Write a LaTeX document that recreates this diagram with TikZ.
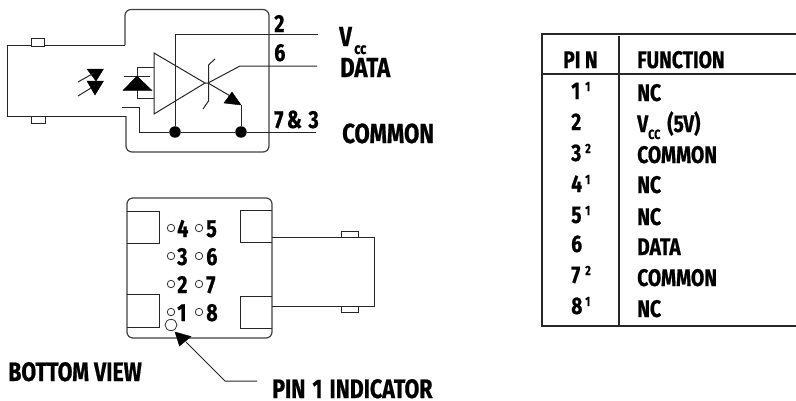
\documentclass[tikz,border=0pt]{standalone}
\usepackage{fontspec}
\usetikzlibrary{shapes.geometric}
\setmainfont{Fira Sans}[FakeStretch=0.8,BoldFeatures={FakeBold=0.7,FakeStretch=0.8}]
\begin{document}
\begin{tikzpicture}[x=0.75pt,y=-0.75pt,
  wire/.style={draw=black!85,line width=0.75pt,line join=miter},
  outline/.style={draw=black!75,line width=0.9pt},
  rule/.style={draw=black!85,line width=1.2pt},
  solid fill/.style={fill=black,draw=black,line width=0.3pt},
  dotnode/.style={circle,fill=black,inner sep=0pt,minimum size=8.6pt},
  pinhole/.style={circle,draw=black!80,line width=0.6pt,inner sep=0pt,minimum size=5.6pt},
  tx/.style={anchor=base west,inner sep=0pt,font=\bfseries\fontsize{18}{18}\selectfont,text=black},
  pintx/.style={tx,font=\bfseries\fontsize{18.5}{18}\selectfont},
  bigtx/.style={tx,font=\bfseries\fontsize{20.7}{20}\selectfont},
  captx/.style={tx,font=\bfseries\fontsize{20}{20}\selectfont},
  subtx/.style={tx,font=\bfseries\fontsize{12}{12}\selectfont},
  suptx/.style={tx,font=\bfseries\fontsize{10}{10}\selectfont}]
\useasboundingbox (0,0) rectangle (796,400);
% ---- top: package
\draw[outline,rounded corners=4.5pt] (125,45) -- (125,9.5) -- (269,9.5) -- (269,152) -- (126,152) -- (126,116);
\draw[wire] (126,116) -- (7,116) -- (7,45) -- (125,45);
\draw[wire,fill=white] (31,38.5) rectangle (44.5,46);
\draw[wire,fill=white] (31,116) rectangle (45.5,123);
% LED
\fill[solid fill] (87,69) -- (103.5,69) -- (96,81) -- cycle;
\fill[solid fill] (87,81) -- (103.5,81) -- (95,95) -- cycle;
\draw[wire] (78,82) -- (94,73);
\draw[wire] (78,96) -- (91,88);
% photodiode
\coordinate (pdA) at (137,67);
\coordinate (pdB) at (137,98);
\coordinate (ampTop) at (154,53);
\coordinate (ampBot) at (154,114);
\coordinate (ampTip) at (205,83);
\draw[wire] (ampTop) -- (ampBot) -- (ampTip) -- cycle;
\draw[wire] (154,67) -- (pdA) -- (pdB) -- (154,98);
\draw[wire] (124,76) -- (150,76);
\fill[solid fill] (123,90.5) -- (152,90.5) -- (137,76) -- cycle;
% schmitt
\coordinate (dataEnd) at (317,66);
\draw[wire] (ampTip) -- (208,83) -- (240,66) -- (dataEnd);
\draw[wire] (215,59) -- (208.5,65) -- (208.5,101) -- (203,109);
\coordinate (emit) at (241,105);
\draw[wire] (208,83) -- (232,97);
\fill[solid fill] (232,92) -- (224,103) -- (emit) -- cycle;
\node[dotnode] (dotV) at (175,132) {};
\node[dotnode] (dotE) at (241,132) {};
\coordinate (vccEnd) at (318,34);
\coordinate (comEnd) at (316,132);
\coordinate (comStart) at (122,107);
\draw[wire] (dotV) -- (175,34) -- (vccEnd);
\draw[wire] (emit) -- (dotE);
\draw[wire] (comStart) -- (139,107) -- (139,132) -- (dotV) -- (dotE) -- (comEnd);
% top labels
\node[pintx] (p2) at (274,32) {2};
\node[pintx] (p6) at (274,61) {6};
\node[pintx] (p73) at (274,128) {7\hspace{2.5pt}\&\hspace{5pt}3};
\node[bigtx] (vcc) at (339,46) {V};
\node[subtx] (vccs) at (354,54) {cc};
\node[bigtx] (data) at (340,77) {DATA};
\node[bigtx] (common) at (342,143) {COMMON};
% ---- bottom view
\draw[outline,rounded corners=4.5pt] (127,198) rectangle (272,338);
\draw[wire] (127,211) -- (159,211) -- (159,243.5) -- (127,243.5);
\draw[wire] (272,210) -- (240,210) -- (240,242) -- (272,242);
\draw[wire] (127,294) -- (159,294) -- (159,327) -- (127,327);
\draw[wire] (272,296) -- (240,296) -- (240,328) -- (272,328);
\draw[wire] (272,237.5) -- (374,237.5) -- (374,306) -- (272,306);
\draw[wire] (341,237.5) -- (341,231) -- (358,231) -- (358,237.5);
\draw[wire] (341,306) -- (341,312) -- (358,312) -- (358,306);
\foreach \n/\x/\y in {h4/171/228,h3/171/256,h2/171/284,h1/171/312,h5/199/228,h6/199/256,h7/199/284,h8/199/312}
  \node[pinhole] (\n) at (\x,\y) {};
\node[pintx] (n4) at (177,237) {4};
\node[pintx] (n5) at (206,237) {5};
\node[pintx] (n3) at (177,265) {3};
\node[pintx] (n6) at (206,265) {6};
\node[pintx] (n2) at (177,293) {2};
\node[pintx] (n7) at (206,293) {7};
\node[pintx] (n1) at (177,321) {1};
\node[pintx] (n8) at (206,321) {8};
\node[draw=black!80,line width=0.6pt,ellipse,inner sep=0pt,minimum width=9pt,minimum height=8.4pt] (ind) at (171,325) {};
\coordinate (tip) at (175,332);
\coordinate (elbow) at (225,381);
\coordinate (lead) at (257,381);
\draw[wire] (lead) -- (elbow) -- (186,342);
\fill[solid fill] (tip) -- (191,336.5) -- (179.5,346) -- cycle;
\node[captx] (bv) at (8,381) {BOTTOM VIEW};
\node[captx] (ind1) at (272,398) {PIN\hspace{1.5pt} 1\hspace{1.5pt} INDICATOR};
% ---- table
\draw[rule] (796,34) -- (542,34) -- (542,326) -- (796,326);
\draw[rule] (542,74) -- (796,74);
\draw[rule] (619,36) -- (619,326);
\node[tx] (hp) at (563,68) {PI N};
\node[tx] (hf) at (637,68) {FUNCTION};
\foreach \n/\t/\y in {a/1/99,b/2/130,c/3/161,d/4/192,e/5/223,f/6/252,g/7/283,h/8/314}
  \node[tx] (r\n) at (571,\y) {\t};
\foreach \n/\t/\y in {a/1/91,c/2/153,d/1/184,e/1/215,g/2/275,h/1/306}
  \node[suptx] (s\n) at (585,\y) {\t};
\node[tx] (fa) at (637,101) {NC};
\node[tx] (fb) at (637,132) {V};
\node[subtx,font=\bfseries\fontsize{10}{10}\selectfont] (fbs) at (648,139) {CC};
\node[tx] (fb2) at (667,132) {(5V)};
\node[tx] (fc) at (637,163) {COMMON};
\node[tx] (fd) at (637,193) {NC};
\node[tx] (fe) at (637,225) {NC};
\node[tx] (ff) at (637,255) {DATA};
\node[tx] (fg) at (637,286) {COMMON};
\node[tx] (fh) at (637,317) {NC};
\end{tikzpicture}
\end{document}
